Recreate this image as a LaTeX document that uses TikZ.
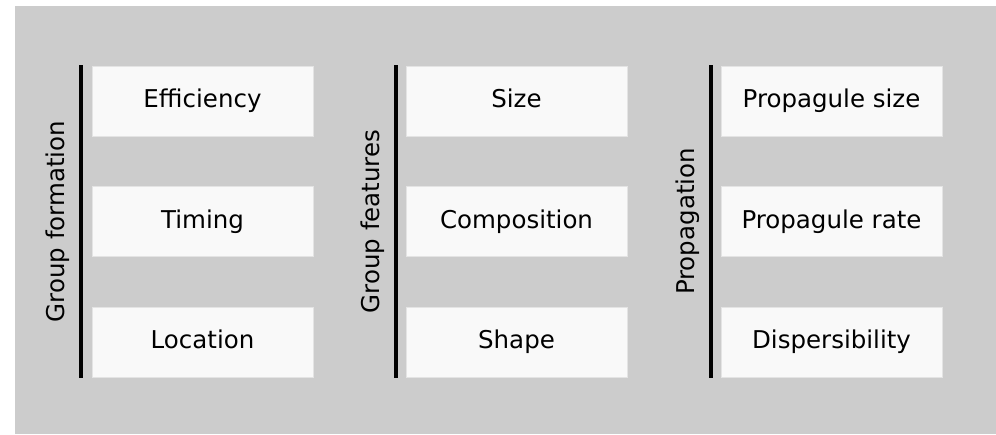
\documentclass[tikz,border=0pt]{standalone}
\usepackage{fontspec}
\setmainfont{DejaVu Sans}
\definecolor{bggray}{HTML}{CCCCCC}
\definecolor{boxfill}{HTML}{F9F9F9}
\definecolor{boxedge}{HTML}{E4E4E4}
\begin{document}
\begin{tikzpicture}[x=1pt,y=-1pt,
  itembox/.style={draw=boxedge, line width=0.8pt, fill=boxfill, minimum width=221pt, minimum height=70pt, inner sep=0pt, text height=18.5pt, text depth=5pt, font=\fontsize{24.5}{29}\selectfont, text=black},
  grouplabel/.style={rotate=90, inner sep=0pt, text height=18.5pt, text depth=5pt, font=\fontsize{24.5}{29}\selectfont, text=black},
  bar/.style={line width=4pt, black}
]
\useasboundingbox (0,0) rectangle (996,434);
\fill[bggray] (15,6) rectangle (996,434);

% column 1
\coordinate (b1t) at (81,65);
\coordinate (b1b) at (81,378);
\draw[bar] (b1t) -- (b1b);
\node[grouplabel] (g1) at (58,221.5) {Group formation};
\node[itembox] (e) at (202.5,101) {Efficiency};
\node[itembox] (t) at (202.5,221.5) {Timing};
\node[itembox] (l) at (202.5,342) {Location};

% column 2
\coordinate (b2t) at (396,65);
\coordinate (b2b) at (396,378);
\draw[bar] (b2t) -- (b2b);
\node[grouplabel] (g2) at (373,221.5) {Group features};
\node[itembox] (s) at (516.5,101) {Size};
\node[itembox] (c) at (516.5,221.5) {Composition};
\node[itembox] (sh) at (516.5,342) {Shape};

% column 3
\coordinate (b3t) at (711,65);
\coordinate (b3b) at (711,378);
\draw[bar] (b3t) -- (b3b);
\node[grouplabel] (g3) at (688,221.5) {Propagation};
\node[itembox] (ps) at (831.5,101) {Propagule size};
\node[itembox] (pr) at (831.5,221.5) {Propagule rate};
\node[itembox] (d) at (831.5,342) {Dispersibility};
\end{tikzpicture}
\end{document}
